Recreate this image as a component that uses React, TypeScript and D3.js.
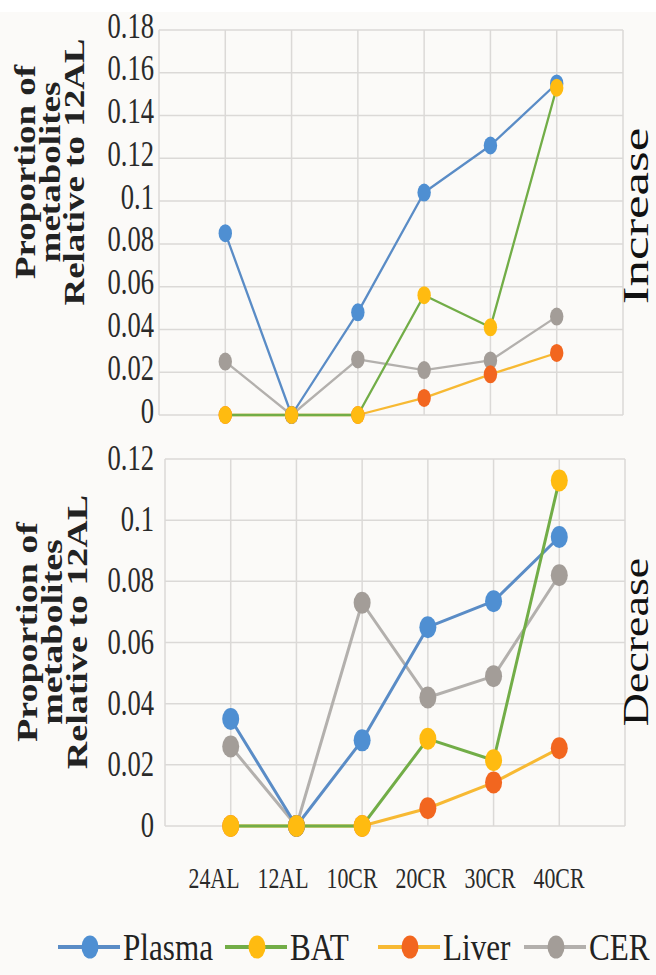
import React from "react";
import * as d3 from "d3";

const categories = ["24AL", "12AL", "10CR", "20CR", "30CR", "40CR"];

// Increase panel
const plasmaInc = [0.085, 0, 0.048, 0.104, 0.126, 0.155];
const batInc = [0, 0, 0, 0.056, 0.041, 0.153];
const liverInc = [0, 0, 0, 0.008, 0.019, 0.029];
const cerInc = [0.025, 0, 0.026, 0.021, 0.0255, 0.046];

// Decrease panel
const plasmaDec = [0.035, 0, 0.028, 0.065, 0.0735, 0.0945];
const batDec = [0, 0, 0, 0.0285, 0.0215, 0.113];
const liverDec = [0, 0, 0, 0.0058, 0.0142, 0.0254];
const cerDec = [0.026, 0, 0.073, 0.042, 0.049, 0.082];

const incTicks = [0, 0.02, 0.04, 0.06, 0.08, 0.1, 0.12, 0.14, 0.16, 0.18];
const decTicks = [0, 0.02, 0.04, 0.06, 0.08, 0.1, 0.12];

const seriesNames = ["Plasma", "BAT", "Liver", "CER"];
const lineColors: Record<string, string> = {
  Plasma: "#5a8cc6",
  BAT: "#72ad47",
  Liver: "#f7b933",
  CER: "#b3b0ad",
};
const markerColors: Record<string, string> = {
  Plasma: "#4f8fd2",
  BAT: "#ffbb10",
  Liver: "#f2661f",
  CER: "#a39d98",
};
// draw order (last on top)
const drawOrder = ["CER", "Liver", "Plasma", "BAT"];

const SERIF = "'Liberation Serif', 'Times New Roman', serif";

type PanelProps = {
  data: Record<string, number[]>;
  ticks: number[];
  yMax: number;
  left: number;
  right: number;
  top: number;
  bottom: number;
  rx: number;
  ry: number;
  lw: number;
  tickDy: number;
  titleBase: number[];
  titleCy: number;
  titleSize: number;
  side: string;
  sideCy: number;
  sideSize: number;
  sideSx: number;
};

function Panel(p: PanelProps) {
  const x = d3.scaleLinear().domain([-1, 6]).range([p.left, p.right]);
  const y = d3.scaleLinear().domain([0, p.yMax]).range([p.bottom, p.top]);
  const gridX = d3.range(-1, 7);
  const line = d3
    .line<number>()
    .x((_, i) => x(i))
    .y((v) => y(v));
  const fmt = (v: number) => String(+v.toFixed(2));
  const titleLines = ["Proportion of", "metabolites", "Relative to 12AL"];
  return (
    <g>
      {p.ticks.map((t) => (
        <line
          key={"h" + t}
          x1={p.left}
          x2={p.right}
          y1={y(t)}
          y2={y(t)}
          stroke="#dbd9d7"
          strokeWidth={1.5}
        />
      ))}
      {gridX.map((g) => (
        <line
          key={"v" + g}
          x1={x(g)}
          x2={x(g)}
          y1={p.top}
          y2={p.bottom}
          stroke="#dbd9d7"
          strokeWidth={1.5}
        />
      ))}
      {p.ticks.map((t) => (
        <g key={"t" + t} transform={`translate(154,${y(t) + p.tickDy}) scale(0.76,1)`}>
          <text textAnchor="end" fontFamily={SERIF} fontSize={35} fill="#2a2a2a">
            {fmt(t)}
          </text>
        </g>
      ))}
      {titleLines.map((s, i) => (
        <g
          key={s}
          transform={`translate(${p.titleBase[i]},${p.titleCy}) scale(0.78,1) rotate(-90)`}
        >
          <text
            textAnchor="middle"
            fontFamily={SERIF}
            fontWeight="bold"
            fontSize={p.titleSize}
            fill="#222"
          >
            {s}
          </text>
        </g>
      ))}
      <g transform={`translate(648,${p.sideCy}) scale(${p.sideSx},1) rotate(-90)`}>
        <text textAnchor="middle" fontFamily={SERIF} fontSize={p.sideSize} fill="#111">
          {p.side}
        </text>
      </g>
      {drawOrder.map((s) => (
        <path
          key={"l" + s}
          d={line(p.data[s]) || ""}
          fill="none"
          stroke={lineColors[s]}
          strokeWidth={p.lw}
          strokeLinejoin="round"
        />
      ))}
      {drawOrder.map((s) =>
        p.data[s].map((v, i) => (
          <ellipse
            key={"m" + s + i}
            cx={x(i)}
            cy={y(v)}
            rx={p.rx}
            ry={p.ry}
            fill={markerColors[s]}
          />
        ))
      )}
    </g>
  );
}

export default function App() {
  const labelX = d3.scalePoint<string>().domain(categories).range([214, 559]);
  const legendX = [90, 257, 410, 556];
  return (
    <div style={{ position: "absolute", left: 0, top: 0 }}>
      <svg width={656} height={975} style={{ display: "block" }}>
        <rect x={0} y={0} width={656} height={975} fill="#fbfaf8" />
        <rect x={0} y={0} width={656} height={12} fill="#ffffff" />
        <Panel
          data={{ Plasma: plasmaInc, BAT: batInc, Liver: liverInc, CER: cerInc }}
          ticks={incTicks}
          yMax={0.18}
          left={159}
          right={623}
          top={30}
          bottom={415}
          rx={6.7}
          ry={9}
          lw={2.3}
          tickDy={7.5}
          titleBase={[35, 60, 84]}
          titleCy={172}
          titleSize={37}
          side="Increase"
          sideCy={216}
          sideSize={53}
          sideSx={0.66}
        />
        <Panel
          data={{ Plasma: plasmaDec, BAT: batDec, Liver: liverDec, CER: cerDec }}
          ticks={decTicks}
          yMax={0.12}
          left={165}
          right={625}
          top={459}
          bottom={826}
          rx={8.5}
          ry={11}
          lw={3}
          tickDy={11}
          titleBase={[37, 62, 87]}
          titleCy={632}
          titleSize={38}
          side="Decrease"
          sideCy={642}
          sideSize={46}
          sideSx={0.76}
        />
        {categories.map((c) => (
          <g key={c} transform={`translate(${labelX(c)},888) scale(0.74,1)`}>
            <text textAnchor="middle" fontFamily={SERIF} fontSize={29.5} fill="#2a2a2a">
              {c}
            </text>
          </g>
        ))}
        {seriesNames.map((s, i) => (
          <g key={"lg" + s}>
            <line
              x1={legendX[i] - 32}
              x2={legendX[i] + 30}
              y1={947}
              y2={947}
              stroke={lineColors[s]}
              strokeWidth={4}
            />
            <ellipse cx={legendX[i]} cy={947} rx={8.5} ry={11.5} fill={markerColors[s]} />
            <g transform={`translate(${legendX[i] + 33},960) scale(0.82,1)`}>
              <text fontFamily={SERIF} fontSize={38} fill="#222">
                {s}
              </text>
            </g>
          </g>
        ))}
      </svg>
    </div>
  );
}
